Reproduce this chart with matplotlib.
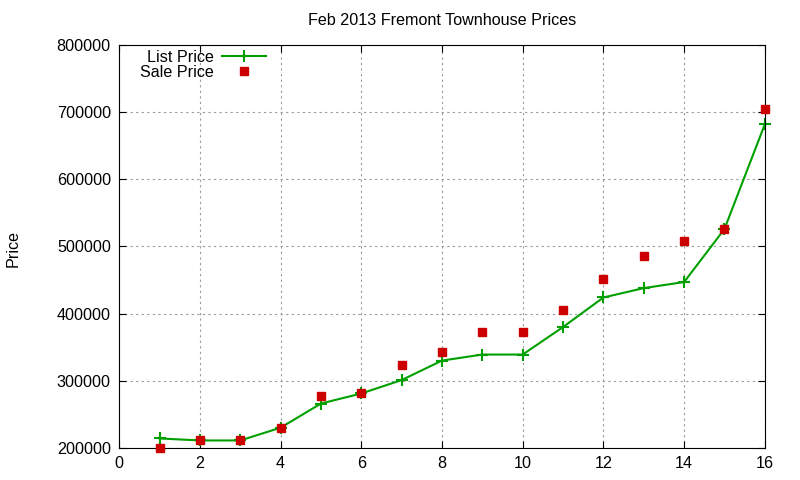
import matplotlib
matplotlib.use("Agg")
import matplotlib.pyplot as plt

# Fremont townhouse listings, Feb 2013
house_idx = [1, 2, 3, 4, 5, 6, 7, 8, 9, 10, 11, 12, 13, 14, 15, 16]
list_price = [214000, 211000, 211000, 230000, 266000, 281000, 301000, 330000,
              339000, 339000, 380000, 424000, 438000, 447000, 526000, 682000]
sale_price = [200000, 211000, 211000, 230000, 277000, 281000, 323000, 343000,
              372000, 372000, 405000, 451000, 486000, 508000, 526000, 705000]

x_ticks = list(range(0, 17, 2))
y_ticks = list(range(200000, 800001, 100000))

plt.rcParams['font.family'] = ['Liberation Sans', 'DejaVu Sans']
fs = 11.6

fig = plt.figure(figsize=(8, 4.8), dpi=100)
ax = fig.add_axes([0.149, 0.067, 0.807, 0.839])

ax.plot(house_idx, list_price, color='#00a000', lw=1.5, marker='+',
        markersize=8, markeredgewidth=1.5, label='List Price', clip_on=False)
ax.plot(house_idx, sale_price, color='#cc0000', ls='none', marker='s',
        markersize=6, label='Sale Price', clip_on=False, zorder=3)

ax.set_xlim(0, 16)
ax.set_ylim(200000, 800000)
ax.set_xticks(x_ticks)
ax.set_yticks(y_ticks)
ax.tick_params(direction='in', top=True, right=True, labelsize=fs, length=5, pad=6)
ax.grid(True, color='#999999', ls=(0, (2, 3)), lw=0.8)

# gnuplot centres the title over the plot area, not the canvas
fig.text(0.149 + 0.807 / 2, 0.958, 'Feb 2013 Fremont Townhouse Prices',
         ha='center', va='center', fontsize=fs)
fig.text(0.016, 0.483, 'Price', rotation=90, ha='center', va='center', fontsize=fs)

leg = ax.legend(loc='upper left', bbox_to_anchor=(0.013, 1.02), frameon=False,
                markerfirst=False, fontsize=fs, handlelength=2.7,
                labelspacing=0.0, handletextpad=0.5, borderpad=0.3)
for t in leg.get_texts():
    t.set_ha('right')
leg._legend_box.align = 'right'

fig.savefig('out.png', dpi=100)
